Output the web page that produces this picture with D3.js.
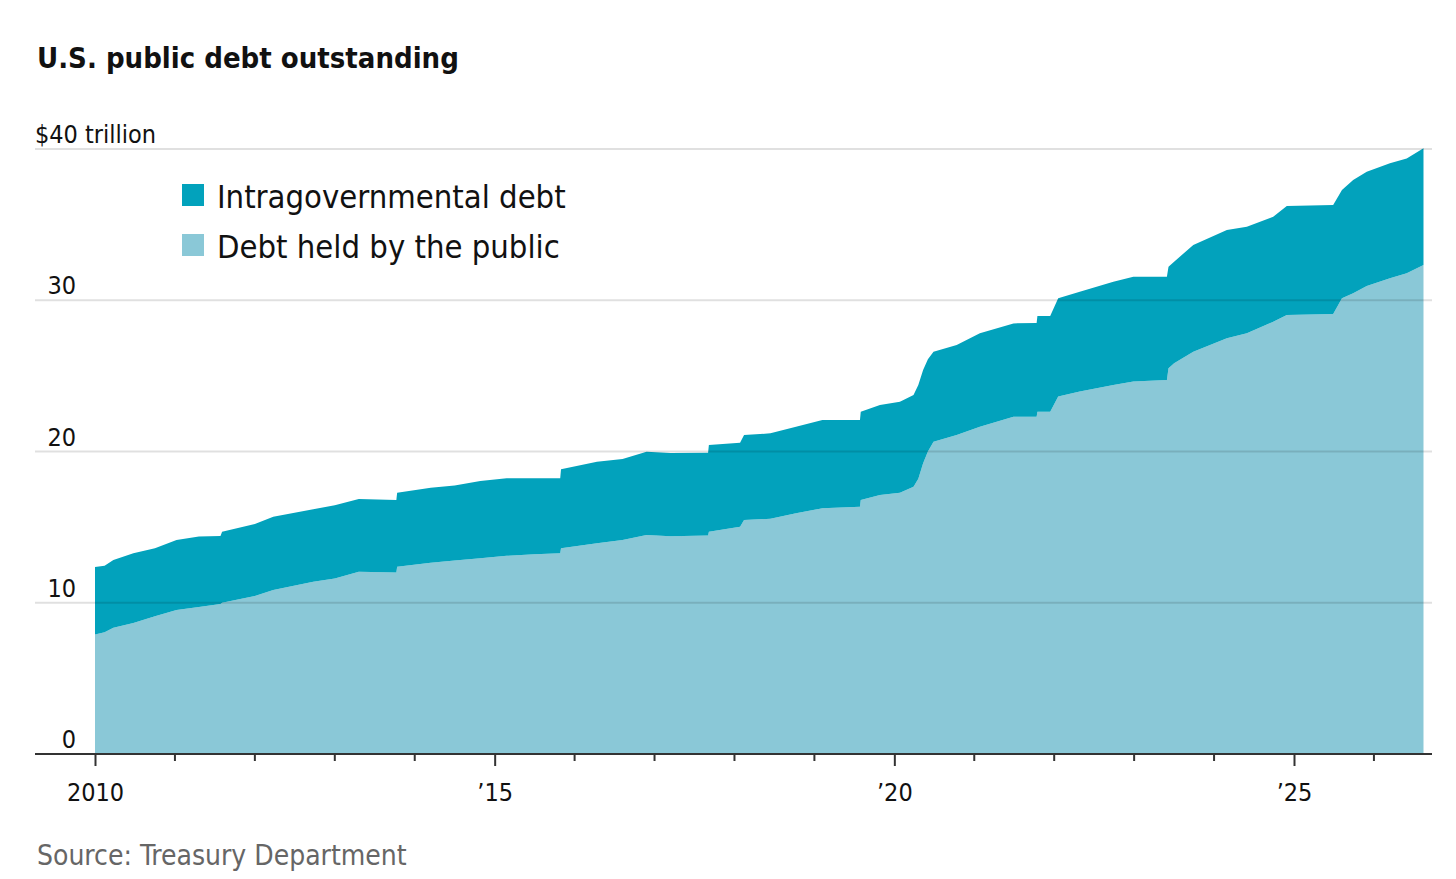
<!DOCTYPE html>
<html>
<head>
<meta charset="utf-8">
<script src="https://cdn.jsdelivr.net/npm/d3@7"></script>
<style>
  body { margin: 0; background: #fff; }
  svg { display: block; font-family: "Liberation Sans Narrow", "DejaVu Sans Condensed", "Roboto", sans-serif; }
</style>
</head>
<body>
<div id="chart"></div>
<script>
// decimal years
const years = [
  2010.00, 2010.12, 2010.23, 2010.48, 2010.75, 2011.02, 2011.30, 2011.57, 2011.59, 2012.00,
  2012.23, 2012.73, 2013.00, 2013.30, 2013.77, 2013.78, 2014.20, 2014.50, 2014.82, 2015.15,
  2015.50, 2015.82, 2015.83, 2016.28, 2016.60, 2016.90, 2017.20, 2017.67, 2017.68, 2018.07,
  2018.12, 2018.45, 2018.77, 2019.10, 2019.57, 2019.58, 2019.82, 2020.07, 2020.24, 2020.30,
  2020.36, 2020.42, 2020.49, 2020.78, 2021.07, 2021.49, 2021.78, 2021.79, 2021.95, 2022.05,
  2022.32, 2022.74, 2022.99, 2023.41, 2023.43, 2023.50, 2023.74, 2024.16, 2024.41, 2024.74,
  2024.91, 2025.49, 2025.60, 2025.74, 2025.91, 2026.20, 2026.41, 2026.62
];
// $ trillion
const publicDebt = [
  7.90, 8.05, 8.35, 8.66, 9.10, 9.52, 9.72, 9.92, 10.00, 10.45,
  10.84, 11.39, 11.60, 12.05, 12.00, 12.38, 12.65, 12.80, 12.94, 13.10,
  13.20, 13.27, 13.60, 13.93, 14.15, 14.48, 14.40, 14.45, 14.70, 15.03,
  15.47, 15.55, 15.91, 16.24, 16.35, 16.79, 17.12, 17.28, 17.67, 18.20,
  19.22, 20.00, 20.65, 21.09, 21.64, 22.30, 22.30, 22.63, 22.63, 23.63,
  23.96, 24.40, 24.62, 24.73, 25.50, 25.83, 26.60, 27.48, 27.81, 28.58,
  29.02, 29.09, 30.13, 30.46, 30.94, 31.45, 31.78, 32.33
];
const intragovDebt = [
  4.46, 4.40, 4.48, 4.61, 4.50, 4.63, 4.66, 4.49, 4.70, 4.75,
  4.85, 4.79, 4.85, 4.81, 4.79, 4.90, 4.96, 4.95, 5.11, 5.13,
  5.03, 4.96, 5.22, 5.40, 5.35, 5.51, 5.50, 5.47, 5.73, 5.55,
  5.62, 5.65, 5.73, 5.84, 5.73, 5.84, 5.95, 6.01, 6.07, 6.20,
  6.17, 6.10, 5.95, 5.95, 6.17, 6.17, 6.20, 6.33, 6.33, 6.50,
  6.61, 6.83, 6.94, 6.83, 6.72, 6.72, 7.05, 7.16, 7.05, 6.94,
  7.21, 7.21, 7.16, 7.49, 7.56, 7.60, 7.60, 7.72
];
const seriesKeys = ['public', 'intragov'];
const seriesLabels = ['Intragovernmental debt', 'Debt held by the public'];
const yTicks = [0, 10, 20, 30, 40];
const majorYears = [2010, 2015, 2020, 2025];
const minorYears = [2011, 2012, 2013, 2014, 2016, 2017, 2018, 2019, 2021, 2022, 2023, 2024, 2026];

const colors = {public: '#8ac8d7', intragov: '#02a2bc'};
const width = 1456;
const height = 879;

const svg = d3.select('#chart').append('svg')
  .attr('width', width)
  .attr('height', height);

const x = d3.scaleLinear().domain([2010, 2025]).range([95, 1294]);
const y = d3.scaleLinear().domain([0, 40]).range([754, 149]);
const gridLeft = 35;
const gridRight = 1432;

const rows = years.map((yr, i) => ({year: yr, public: publicDebt[i], intragov: intragovDebt[i]}));
const stacked = d3.stack().keys(seriesKeys)(rows);

const area = d3.area()
  .x(d => x(d.data.year))
  .y0(d => y(d[0]))
  .y1(d => y(d[1]));

svg.append('g').selectAll('path')
  .data(stacked)
  .join('path')
  .attr('fill', d => colors[d.key])
  .attr('d', area);

// gridlines sit on top of the areas, faint
svg.append('g').selectAll('line')
  .data(yTicks.filter(t => t > 0))
  .join('line')
  .attr('x1', gridLeft)
  .attr('x2', gridRight)
  .attr('y1', d => y(d))
  .attr('y2', d => y(d))
  .attr('stroke', '#000')
  .attr('stroke-opacity', 0.12)
  .attr('stroke-width', 2);

// y labels
svg.append('g').selectAll('text')
  .data(yTicks)
  .join('text')
  .attr('x', d => (d === 40 ? gridLeft : 76))
  .attr('y', d => y(d) - 6)
  .attr('text-anchor', d => (d === 40 ? 'start' : 'end'))
  .attr('font-size', 25)
  .attr('fill', '#111')
  .text(d => (d === 40 ? '$40 trillion' : d));

// baseline axis
const axis = d3.axisBottom(x)
  .tickValues(majorYears)
  .tickSize(12)
  .tickFormat(d => (d === 2010 ? '2010' : '\u2019' + String(d).slice(2)));

const axisG = svg.append('g')
  .attr('transform', `translate(0,${y(0)})`)
  .call(axis)
  .attr('font-family', null)
  .attr('font-size', null);
axisG.select('.domain').remove();
axisG.selectAll('.tick line').attr('stroke', '#333').attr('stroke-width', 2);
axisG.selectAll('.tick text')
  .attr('font-size', 25)
  .attr('fill', '#111')
  .attr('dy', null)
  .attr('y', 47);

svg.append('g').selectAll('line')
  .data(minorYears)
  .join('line')
  .attr('x1', d => x(d))
  .attr('x2', d => x(d))
  .attr('y1', y(0))
  .attr('y2', y(0) + 7)
  .attr('stroke', '#333')
  .attr('stroke-width', 2);

svg.append('line')
  .attr('x1', gridLeft)
  .attr('x2', gridRight)
  .attr('y1', y(0))
  .attr('y2', y(0))
  .attr('stroke', '#333')
  .attr('stroke-width', 2);

// legend
const legend = svg.append('g').attr('transform', 'translate(182,184)');
const legendItems = legend.selectAll('g')
  .data(['intragov', 'public'])
  .join('g')
  .attr('transform', (d, i) => `translate(0,${i * 50})`);
legendItems.append('rect')
  .attr('width', 22)
  .attr('height', 22)
  .attr('fill', d => colors[d]);
legendItems.append('text')
  .attr('x', 35)
  .attr('y', 24)
  .attr('font-size', 32.5)
  .attr('fill', '#111')
  .text((d, i) => seriesLabels[i]);

// title and source
svg.append('text')
  .attr('x', 37)
  .attr('y', 68)
  .attr('font-size', 29)
  .attr('font-weight', 'bold')
  .attr('fill', '#111')
  .text('U.S. public debt outstanding');

svg.append('text')
  .attr('x', 37)
  .attr('y', 865)
  .attr('font-size', 28)
  .attr('fill', '#666')
  .text('Source: Treasury Department');
</script>
</body>
</html>
